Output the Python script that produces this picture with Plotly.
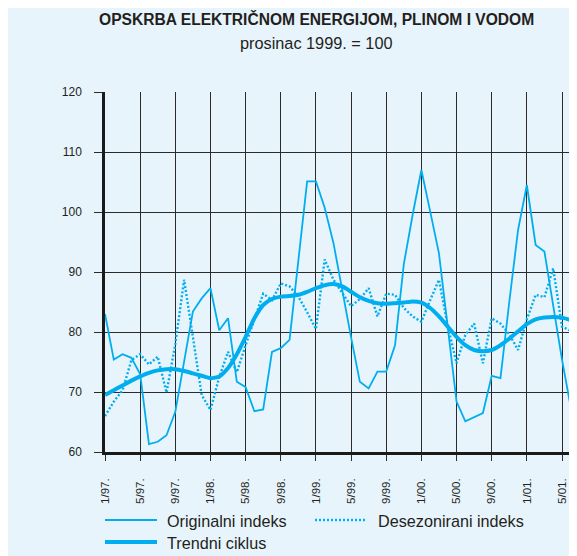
import plotly.graph_objects as go

# Months from 1/97 (index 0) to 7/01 (index 54)
month_index = list(range(55))

originalni = [83.0, 75.4, 76.3, 75.7, 73.0, 61.3, 61.7, 62.8, 66.7, 75.0,
              83.4, 85.6, 87.3, 80.3, 82.3, 71.7, 70.8, 66.8, 67.1, 76.7,
              77.3, 78.7, 91.5, 105.1, 105.1, 100.7, 94.8, 86.8, 79.1, 71.7,
              70.6, 73.4, 73.4, 77.8, 91.3, 99.5, 107.0, 100.1, 93.1, 80.8,
              68.4, 65.1, 65.8, 66.5, 72.7, 72.3, 85.0, 97.0, 104.5, 94.5,
              93.4, 84.1, 75.4, 67.4, 67.6]

desezonirani = [66.0, 68.4, 70.3, 75.3, 76.3, 74.6, 75.9, 69.9, 78.0, 88.7,
                79.2, 69.5, 67.0, 72.5, 76.7, 73.3, 77.8, 82.0, 86.4, 85.3,
                88.1, 87.6, 85.9, 83.3, 80.5, 92.1, 88.7, 86.5, 84.3, 85.5,
                87.3, 82.6, 86.4, 86.2, 84.0, 82.6, 81.7, 85.3, 88.7, 81.0,
                74.8, 79.5, 81.4, 74.8, 82.3, 81.4, 79.6, 77.0, 82.1, 86.2,
                85.8, 90.6, 80.9, 80.2, 84.0]

trendni = [69.5, 70.3, 71.1, 71.9, 72.6, 73.2, 73.6, 73.8, 73.8, 73.5,
           73.1, 72.7, 72.3, 72.6, 74.0, 76.3, 79.2, 82.3, 84.5, 85.5,
           85.9, 86.0, 86.2, 86.7, 87.3, 87.8, 88.0, 87.6, 86.7, 85.8,
           85.2, 84.8, 84.7, 84.8, 84.9, 85.1, 84.9, 84.0, 82.6, 80.9,
           79.2, 77.8, 77.0, 76.8, 77.0, 77.8, 78.9, 80.1, 81.3, 82.1,
           82.4, 82.5, 82.4, 82.0, 81.7]

tick_positions = list(range(0, 53, 4))
tick_labels = ["1/97.", "5/97.", "9/97.", "1/98.", "5/98.", "9/98.", "1/99.",
               "5/99.", "9/99.", "1/00.", "5/00.", "9/00.", "1/01.", "5/01."]

title_text = "OPSKRBA ELEKTRIČNOM ENERGIJOM, PLINOM I VODOM"
subtitle_text = "prosinac 1999. = 100"
series_names = ["Originalni indeks", "Desezonirani indeks", "Trendni ciklus"]

BG = "#E8F4FC"
CYAN = "#00AEEF"
GRID = "#2b2b2b"
FONT = "Liberation Sans, Arial, sans-serif"

OFF = 8  # page body margin
W, H = 577 - OFF, 556 - OFF
ML, MR, MT, MB = 105 - OFF, 0, 92 - OFF, (556 - OFF) - (452 - OFF)

pw = W - ML - MR
ph = H - MT - MB


def px2x(px):
    return (px - OFF - ML) / pw


def py2y(py):
    return (H - MB - (py - OFF)) / ph


fig = go.Figure()
fig.add_trace(go.Scatter(x=month_index, y=originalni, mode="lines",
                         line=dict(color=CYAN, width=1.8), name=series_names[0]))
fig.add_trace(go.Scatter(x=month_index, y=desezonirani, mode="lines",
                         line=dict(color=CYAN, width=2.4, dash="2px,2px"),
                         name=series_names[1]))
fig.add_trace(go.Scatter(x=month_index, y=trendni, mode="lines",
                         line=dict(color=CYAN, width=4, shape="spline", smoothing=0.6),
                         name=series_names[2]))

shapes = []
annotations = []
# legend samples
shapes.append(dict(type="line", xref="paper", yref="paper",
                   x0=px2x(105), x1=px2x(157), y0=py2y(520), y1=py2y(520),
                   line=dict(color=CYAN, width=1.8)))
shapes.append(dict(type="line", xref="paper", yref="paper",
                   x0=px2x(315), x1=px2x(367), y0=py2y(520), y1=py2y(520),
                   line=dict(color=CYAN, width=2.4, dash="2px,2px")))
shapes.append(dict(type="line", xref="paper", yref="paper",
                   x0=px2x(105), x1=px2x(157), y0=py2y(542), y1=py2y(542),
                   line=dict(color=CYAN, width=4)))
legend_font = dict(family=FONT, size=16.2, color="#231f20")
annotations.append(dict(xref="paper", yref="paper", x=px2x(165), y=py2y(521),
                        text=series_names[0], showarrow=False, xanchor="left",
                        yanchor="middle", font=legend_font))
annotations.append(dict(xref="paper", yref="paper", x=px2x(376), y=py2y(521),
                        text=series_names[1], showarrow=False, xanchor="left",
                        yanchor="middle", font=legend_font))
annotations.append(dict(xref="paper", yref="paper", x=px2x(165), y=py2y(543),
                        text=series_names[2], showarrow=False, xanchor="left",
                        yanchor="middle", font=legend_font))
# titles
annotations.append(dict(xref="paper", yref="paper", x=px2x(316), y=py2y(19),
                        text="<b>" + title_text + "</b>", showarrow=False,
                        xanchor="center", yanchor="middle",
                        font=dict(family=FONT, size=15.6, color="#231f20")))
annotations.append(dict(xref="paper", yref="paper", x=px2x(316), y=py2y(43),
                        text=subtitle_text, showarrow=False,
                        xanchor="center", yanchor="middle",
                        font=dict(family=FONT, size=16.3, color="#231f20")))

fig.update_layout(
    width=W, height=H,
    margin=dict(l=ML, r=MR, t=MT, b=MB, pad=0, autoexpand=False),
    paper_bgcolor=BG, plot_bgcolor=BG,
    showlegend=False,
    shapes=shapes, annotations=annotations,
    font=dict(family=FONT, color="#231f20"),
)
fig.update_xaxes(
    range=[0, pw / (457.0 / 52)],
    tickmode="array", tickvals=tick_positions, ticktext=tick_labels,
    tickangle=-90, tickfont=dict(size=11.5, family=FONT, color="#231f20"),
    showgrid=True, gridcolor=GRID, gridwidth=1,
    ticks="outside", ticklen=6, tickcolor=GRID, tickwidth=1,
    showline=True, linecolor="#1a1a1a", linewidth=2.5,
    zeroline=False, ticklabelstandoff=13, automargin=False,
)
fig.update_yaxes(
    range=[60, 120], tickvals=[60, 70, 80, 90, 100, 110, 120],
    tickfont=dict(size=12, family=FONT, color="#231f20"),
    showgrid=True, gridcolor=GRID, gridwidth=1,
    ticks="outside", ticklen=8, tickcolor=GRID, tickwidth=1,
    showline=True, linecolor="#1a1a1a", linewidth=2.5,
    zeroline=False, ticklabelstandoff=10, automargin=False,
)

fig.write_html("out.html")
